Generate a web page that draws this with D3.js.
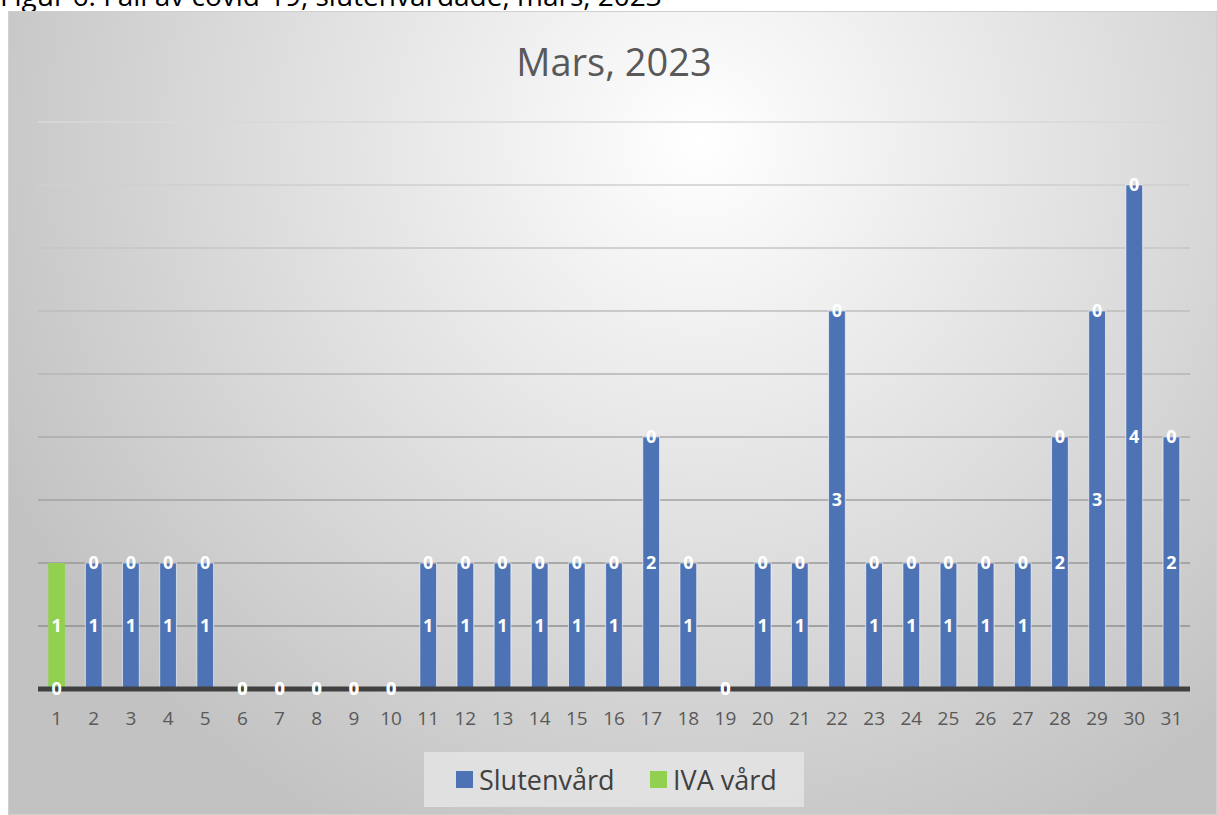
<!DOCTYPE html>
<html>
<head>
<meta charset="utf-8">
<script src="https://cdn.jsdelivr.net/npm/d3@7"></script>
<style>
  html, body { margin: 0; padding: 0; background: #fff; }
  svg { display: block; font-family: "Open Sans", "Noto Sans", sans-serif; }
</style>
</head>
<body>
<svg id="chart" width="1217" height="815"></svg>
<script>
const days = d3.range(1, 32).map(String);
const slutenvard = [0,1,1,1,1,0,0,0,0,0,1,1,1,1,1,1,2,1,0,1,1,3,1,1,1,1,1,2,3,4,2];
const ivaVard    = [1,0,0,0,0,0,0,0,0,0,0,0,0,0,0,0,0,0,0,0,0,0,0,0,0,0,0,0,0,0,0];
const seriesNames = ['Slutenvård', 'IVA vård'];
const yTicks = [0.5, 1, 1.5, 2, 2.5, 3, 3.5, 4, 4.5];

const W = 1217, H = 815;
const svg = d3.select('#chart');

// ── Background gradient ──────────────────────────────────────────────────
const defs = svg.append('defs');
const bg = defs.append('radialGradient').attr('id', 'bg')
  .attr('gradientUnits', 'userSpaceOnUse')
  .attr('cx', 700).attr('cy', 140).attr('r', 780);
bg.append('stop').attr('offset', '0%').attr('stop-color', '#ffffff');
bg.append('stop').attr('offset', '100%').attr('stop-color', '#c2c2c2');

svg.append('text')
  .attr('x', 0).attr('y', 6)
  .attr('fill', '#000').attr('font-size', 28)
  .text('Figur 6: Fall av covid-19, slutenvårdade, mars, 2023');

svg.append('rect')
  .attr('x', 8.5).attr('y', 11.5).attr('width', W - 9).attr('height', H - 12)
  .attr('fill', 'url(#bg)').attr('stroke', '#d0d0d0');

// ── Scales ───────────────────────────────────────────────────────────────
const x = d3.scaleBand().domain(days).range([38, 1190]).paddingInner(0.55).paddingOuter(0.275);
const y = d3.scaleLinear().domain([0, 4.5]).range([689, 122]);
const color = d3.scaleOrdinal().domain(seriesNames).range(['#4E73B4', '#92D050']);
const gridColor = d3.scaleLinear().domain([0.5, 4.5]).range(['#909090', '#d8d8d8']);

// gridlines
svg.append('g').selectAll('line').data(yTicks).join('line')
  .attr('x1', 38).attr('x2', 1190)
  .attr('y1', d => y(d)).attr('y2', d => y(d))
  .attr('stroke', d => gridColor(d)).attr('stroke-width', 1.5);

// ── Title ────────────────────────────────────────────────────────────────
svg.append('text')
  .attr('x', 614).attr('y', 76)
  .attr('text-anchor', 'middle')
  .attr('fill', '#595959').attr('font-size', 38)
  .text('Mars, 2023');

// ── Stacked bars ─────────────────────────────────────────────────────────
const rows = days.map((d, i) => ({ day: d, 'Slutenvård': slutenvard[i], 'IVA vård': ivaVard[i] }));
const stacked = d3.stack().keys(seriesNames)(rows);

const barsG = svg.append('g');
stacked.forEach(layer => {
  barsG.selectAll(null).data(layer).join('rect')
    .attr('x', d => x(d.data.day))
    .attr('width', x.bandwidth())
    .attr('y', d => y(d[1]))
    .attr('height', d => y(d[0]) - y(d[1]))
    .attr('fill', color(layer.key))
    .attr('stroke', d => d[1] > d[0] && layer.key === 'Slutenvård' ? '#ffffff' : 'none')
    .attr('stroke-opacity', 0.6)
    .attr('stroke-width', 1);
});

// ── x axis ───────────────────────────────────────────────────────────────
const xAxis = svg.append('g')
  .attr('transform', 'translate(0,689)')
  .call(d3.axisBottom(x).tickSize(0).tickPadding(30));
xAxis.select('.domain').attr('stroke', '#404040').attr('stroke-width', 5)
  .attr('d', 'M38,0H1190');
xAxis.selectAll('text')
  .attr('fill', '#595959').attr('font-size', 19)
  .attr('font-family', '"Open Sans", "Noto Sans", sans-serif')
  .attr('dy', '0.3em');

// ── Data labels ──────────────────────────────────────────────────────────
const labelG = svg.append('g');
stacked.forEach(layer => {
  labelG.selectAll(null).data(layer).join('text')
    .attr('x', d => x(d.data.day) + x.bandwidth() / 2)
    .attr('y', d => y((d[0] + d[1]) / 2))
    .attr('dy', '0.36em')
    .attr('text-anchor', 'middle')
    .attr('fill', '#ffffff')
    .attr('font-size', 18)
    .attr('font-weight', 700)
    .text(d => d[1] - d[0]);
});

// ── Legend ───────────────────────────────────────────────────────────────
const legend = svg.append('g');
legend.append('rect')
  .attr('x', 424).attr('y', 752).attr('width', 380).attr('height', 55)
  .attr('fill', '#e4e4e4').attr('opacity', 0.85);
const legendX = [456, 650];
seriesNames.forEach((name, i) => {
  legend.append('rect')
    .attr('x', legendX[i]).attr('y', 771)
    .attr('width', 17).attr('height', 17)
    .attr('fill', color(name));
  legend.append('text')
    .attr('x', legendX[i] + 23).attr('y', 790)
    .attr('fill', '#404040').attr('font-size', 27)
    .text(name);
});
</script>
</body>
</html>
